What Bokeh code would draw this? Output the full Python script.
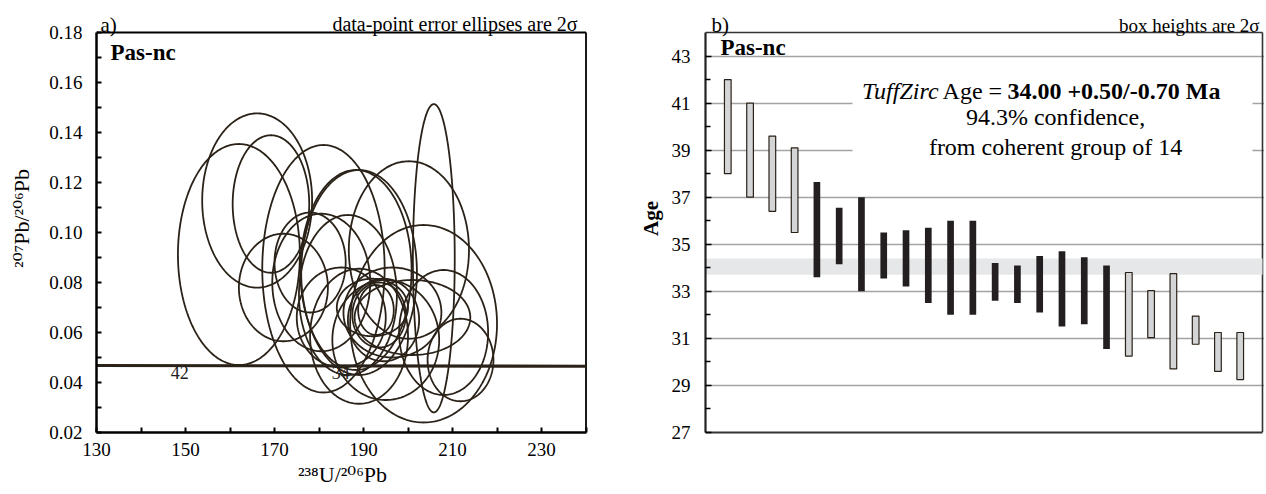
import numpy as np
from bokeh.plotting import figure
from bokeh.layouts import row
from bokeh.models import FixedTicker, PrintfTickFormatter, Label
from bokeh.core.properties import value
from bokeh.embed import file_html
from bokeh.resources import INLINE

# ---------------- data: panel a (2-sigma error ellipses: centre, full width, full height) ----------------
ell_x = [162.0, 166.1, 169.2, 181.0, 205.8, 200.2, 188.3, 189.0, 172.0, 203.5, 211.8, 180.5,
         186.5, 189.0, 192.8, 193.5, 192.0, 194.5, 196.5, 201.0, 185.0, 195.0, 178.0, 208.0]
ell_y = [0.0912, 0.1128, 0.1114, 0.0855, 0.0897, 0.0930, 0.0850, 0.0840, 0.0780, 0.0635, 0.0490, 0.0800,
         0.0750, 0.0585, 0.0690, 0.0670, 0.0700, 0.0650, 0.0680, 0.0660, 0.0660, 0.0570, 0.0880, 0.0600]
ell_w = [27.4, 24.7, 17.2, 27.5, 9.4, 27.0, 25.0, 26.0, 20.0, 33.0, 14.8, 22.0,
         22.0, 22.0, 8.0, 12.0, 16.0, 16.0, 22.0, 26.0, 20.0, 24.0, 16.0, 20.0]
ell_h = [0.0884, 0.0697, 0.0550, 0.0990, 0.1233, 0.0710, 0.0800, 0.0820, 0.0430, 0.0790, 0.0330, 0.0550,
         0.0640, 0.0540, 0.0200, 0.0260, 0.0230, 0.0330, 0.0360, 0.0300, 0.0400, 0.0480, 0.0400, 0.0500]
concordia_x = [130, 240]
concordia_y = [0.0468, 0.0465]
concordia_labels = ["42", "34"]
concordia_label_x = [148.7, 184.9]
concordia_label_y = [0.0442, 0.0442]
a_xticks = [130, 150, 170, 190, 210, 230]
a_xminor = [140, 160, 180, 200, 220, 240]
a_yticks = [0.02, 0.04, 0.06, 0.08, 0.10, 0.12, 0.14, 0.16, 0.18]
a_yminor = [0.03, 0.05, 0.07, 0.09, 0.11, 0.13, 0.15, 0.17]

# ---------------- data: panel b (age boxes) ----------------
bar_pos = list(range(1, 25))
bar_top = [42.0, 41.0, 39.6, 39.1, 37.65, 36.55, 37.0, 35.5, 35.6, 35.7, 36.0, 36.0,
           34.2, 34.1, 34.5, 34.7, 34.45, 34.1, 33.8, 33.03, 33.75, 31.95, 31.25, 31.25]
bar_bot = [38.0, 37.0, 36.4, 35.5, 33.6, 34.15, 33.0, 33.55, 33.2, 32.5, 32.0, 32.0,
           32.6, 32.5, 32.1, 31.5, 31.6, 30.55, 30.25, 31.03, 29.7, 30.75, 29.6, 29.25]
bar_in_group = [False] * 4 + [True] * 14 + [False] * 6
band_low, band_high = 33.7, 34.4
b_yticks = [27, 29, 31, 33, 35, 37, 39, 41, 43]
b_yminor = [28, 30, 32, 34, 36, 38, 40, 42]
b_grid = [29, 31, 33, 35, 37, 39, 41, 43]

SERIF = "Liberation Serif"
SERIF_SUP = "'Liberation Serif', 'DejaVu Serif', serif"
INK = "#2a2218"


def lab(p, x, y, text, size, align="left", baseline="alphabetic", style="normal", angle=0.0):
    p.add_layout(Label(x=x, y=y, text=text, text_font=SERIF, text_font_size=size,
                       text_align=align, text_baseline=baseline, text_font_style=style,
                       text_color="black", angle=angle))


# ================= panel a =================
p1 = figure(width=605, height=492, x_range=(130, 240.56), y_range=(0.02, 0.1912),
            output_backend="svg", toolbar_location=None,
            min_border_left=96, min_border_right=17, min_border_top=4, min_border_bottom=60)
p1.xgrid.visible = False
p1.ygrid.visible = False
p1.outline_line_color = None

for ax in (p1.xaxis[0], p1.yaxis[0]):
    ax.axis_line_width = 2.5
    ax.axis_line_color = "black"
    ax.major_tick_in = 5
    ax.major_tick_out = 0
    ax.minor_tick_in = 5
    ax.minor_tick_out = 0
    ax.major_tick_line_width = 2
    ax.minor_tick_line_width = 2
    ax.major_label_text_font = SERIF
    ax.major_label_text_font_size = "19px"
    ax.major_label_text_color = "black"
    ax.axis_label_text_font = SERIF_SUP
    ax.axis_label_text_font_style = "normal"
    ax.axis_label_text_font_size = "22px"
    ax.axis_label_text_color = "black"
p1.xaxis[0].ticker = FixedTicker(ticks=a_xticks, minor_ticks=a_xminor)
p1.yaxis[0].ticker = FixedTicker(ticks=a_yticks, minor_ticks=a_yminor)
p1.xaxis[0].bounds = (130, 240)
p1.yaxis[0].bounds = (0.02, 0.18)
p1.yaxis[0].formatter = PrintfTickFormatter(format="%.2f")
p1.xaxis[0].major_label_standoff = 10
p1.yaxis[0].major_label_standoff = 14
p1.xaxis[0].axis_label = "²³⁸U/²⁰⁶Pb"
p1.xaxis[0].axis_label_standoff = 3
p1.yaxis[0].axis_label = "²⁰⁷Pb/²⁰⁶Pb"
p1.yaxis[0].axis_label_standoff = 12

# frame top and right edges
p1.line([130, 240], [0.18, 0.18], line_color="black", line_width=1.8)
p1.line([240, 240], [0.02, 0.18], line_color="black", line_width=1.8)

# ellipse outlines traced in data space
t = np.linspace(0.0, 2.0 * np.pi, 241)
xs = [list(cx + 0.5 * w * np.cos(t)) for cx, w in zip(ell_x, ell_w)]
ys = [list(cy + 0.5 * h * np.sin(t)) for cy, h in zip(ell_y, ell_h)]
p1.multi_line(xs=xs, ys=ys, line_color=INK, line_width=1.8)
p1.line(concordia_x, concordia_y, line_color=INK, line_width=3.2)
p1.text(x=concordia_label_x, y=concordia_label_y, text=concordia_labels,
        text_font=value(SERIF), text_font_size="18px", text_align="center",
        text_baseline="middle", text_color="#222222")

lab(p1, 130.9, 0.1832, "a)", "21px")
lab(p1, 238.1, 0.1836, "data-point error ellipses are 2σ", "20px", align="right")
lab(p1, 133.15, 0.1772, "Pas-nc", "23px", baseline="top", style="bold")

# ================= panel b =================
p2 = figure(width=659, height=492, x_range=(0, 25.09), y_range=(27, 45.19),
            output_backend="svg", toolbar_location=None,
            min_border_left=100, min_border_right=0, min_border_top=4, min_border_bottom=60)
p2.xgrid.visible = False
p2.outline_line_color = None
xa = p2.xaxis[0]
xa.ticker = FixedTicker(ticks=[])
xa.bounds = (0, 25)
xa.axis_line_width = 2
xa.axis_line_color = "#333333"
xa.major_tick_in = 0
xa.major_tick_out = 0
xa.minor_tick_in = 0
xa.minor_tick_out = 0

p2.ygrid[0].ticker = FixedTicker(ticks=b_grid)
p2.ygrid[0].grid_line_color = "#a3a3a3"
p2.ygrid[0].grid_line_width = 1.5
ya = p2.yaxis[0]
ya.ticker = FixedTicker(ticks=b_yticks, minor_ticks=b_yminor)
ya.bounds = (27, 44)
ya.axis_line_width = 2.2
ya.axis_line_color = "#222222"
ya.major_tick_in = 6
ya.major_tick_out = 0
ya.minor_tick_in = 5
ya.minor_tick_out = 0
ya.major_tick_line_width = 1.5
ya.minor_tick_line_width = 1.5
ya.major_label_text_font = SERIF
ya.major_label_text_font_size = "19px"
ya.major_label_text_color = "black"
ya.major_label_standoff = 15
ya.axis_label = "Age"
ya.axis_label_text_font = SERIF
ya.axis_label_text_font_style = "bold"
ya.axis_label_text_font_size = "21px"
ya.axis_label_text_color = "black"
ya.axis_label_standoff = 6

# frame top and right edges
p2.line([0, 25], [44, 44], line_color="#333333", line_width=1.6)
p2.line([25, 25], [27, 44], line_color="#333333", line_width=1.6)

# highlighted age band
p2.quad(left=[0], right=[25], bottom=[band_low], top=[band_high],
        fill_color="#e6e7e8", line_color=None)
# white backing behind the result text
p2.quad(left=[6.6], right=[24.55], bottom=[37.4], top=[42.6], fill_color="white", line_color=None)

gx = [x for x, g in zip(bar_pos, bar_in_group) if g]
gt = [t_ for t_, g in zip(bar_top, bar_in_group) if g]
gb = [b for b, g in zip(bar_bot, bar_in_group) if g]
ox = [x for x, g in zip(bar_pos, bar_in_group) if not g]
ot = [t_ for t_, g in zip(bar_top, bar_in_group) if not g]
ob = [b for b, g in zip(bar_bot, bar_in_group) if not g]
p2.vbar(x=gx, top=gt, bottom=gb, width=0.3, fill_color="#231f20", line_color=None)
p2.vbar(x=ox, top=ot, bottom=ob, width=0.3, fill_color="#d4d5d7", line_color=INK, line_width=1.2)

lab(p2, 0.27, 44.34, "b)", "21px")
lab(p2, 24.87, 44.30, "box heights are 2σ", "19px", align="right")
lab(p2, 0.67, 43.915, "Pas-nc", "23px", baseline="top", style="bold")
lab(p2, 10.46, 41.535, "TuffZirc", "24px", align="right", baseline="middle", style="italic")
lab(p2, 10.64, 41.535, "Age =", "24px", baseline="middle")
lab(p2, 13.55, 41.535, "34.00 +0.50/-0.70 Ma", "24px", baseline="middle", style="bold")
lab(p2, 15.71, 40.39, "94.3% confidence,", "24px", align="center", baseline="middle")
lab(p2, 15.71, 39.155, "from coherent group of 14", "24px", align="center", baseline="middle")

layout = row(p1, p2)
open("out.html", "w").write(file_html(layout, INLINE))
